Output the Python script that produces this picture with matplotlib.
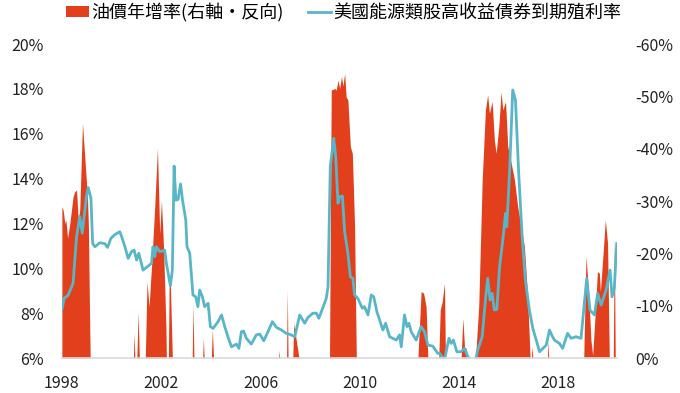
import matplotlib
matplotlib.use("Agg")
import matplotlib.pyplot as plt
from matplotlib.patches import Patch
from matplotlib.lines import Line2D

plt.rcParams['font.family'] = ['Noto Sans CJK TC', 'DejaVu Sans']

##data
# US energy high-yield bond yield (%), left axis
yield_years = [1998.00, 1998.09, 1998.25, 1998.45, 1998.59, 1998.72, 1998.82, 1998.99, 1999.06, 1999.17,
               1999.24, 1999.33, 1999.53, 1999.73, 1999.84, 1999.97, 2000.13, 2000.33, 2000.40, 2000.54,
               2000.67, 2000.80, 2000.91, 2001.01, 2001.10, 2001.27, 2001.61, 2001.67, 2001.74, 2001.81,
               2001.94, 2002.14, 2002.21, 2002.37, 2002.45, 2002.52, 2002.59, 2002.68, 2002.78, 2002.86,
               2002.99, 2003.04, 2003.15, 2003.28, 2003.39, 2003.48, 2003.55, 2003.66, 2003.75, 2003.89,
               2003.98, 2004.09, 2004.29, 2004.43, 2004.56, 2004.69, 2004.83, 2005.03, 2005.13, 2005.23,
               2005.32, 2005.43, 2005.63, 2005.83, 2005.97, 2006.13, 2006.30, 2006.48, 2006.64, 2006.84,
               2007.04, 2007.24, 2007.38, 2007.58, 2007.78, 2007.91, 2008.11, 2008.25, 2008.35, 2008.45,
               2008.65, 2008.72, 2008.81, 2008.95, 2009.03, 2009.12, 2009.19, 2009.30, 2009.39, 2009.52,
               2009.62, 2009.72, 2009.79, 2009.92, 2010.10, 2010.19, 2010.33, 2010.46, 2010.56, 2010.69,
               2010.93, 2011.04, 2011.20, 2011.47, 2011.60, 2011.67, 2011.80, 2011.90, 2011.98, 2012.07,
               2012.27, 2012.47, 2012.61, 2012.74, 2012.94, 2013.14, 2013.21, 2013.41, 2013.59, 2013.68,
               2013.77, 2013.91, 2014.08, 2014.22, 2014.35, 2014.49, 2014.66, 2014.75, 2014.93, 2015.06,
               2015.15, 2015.25, 2015.33, 2015.42, 2015.52, 2015.63, 2015.76, 2015.87, 2015.92, 2016.03,
               2016.16, 2016.27, 2016.40, 2016.54, 2016.67, 2016.83, 2016.97, 2017.24, 2017.51, 2017.64,
               2017.75, 2017.84, 2018.04, 2018.17, 2018.37, 2018.51, 2018.71, 2018.91, 2019.14, 2019.27,
               2019.45, 2019.58, 2019.72, 2019.92, 2020.08, 2020.16, 2020.25, 2020.35]
yield_vals = [8.14, 8.66, 8.80, 9.33, 11.40, 12.30, 11.57, 13.20, 13.60, 13.13,
              11.10, 10.96, 11.14, 11.10, 10.93, 11.33, 11.50, 11.63, 11.44, 10.96,
              10.44, 10.74, 10.81, 10.37, 10.67, 9.92, 10.22, 10.96, 10.52, 10.96,
              10.74, 10.81, 10.22, 9.22, 9.92, 14.56, 13.04, 13.07, 13.76, 13.04,
              12.15, 10.96, 10.67, 8.81, 8.73, 8.29, 9.03, 8.73, 8.29, 8.44,
              7.40, 7.32, 7.62, 7.92, 7.40, 6.95, 6.50, 6.62, 6.43, 7.17,
              7.20, 6.88, 6.62, 7.03, 7.07, 6.77, 7.17, 7.62, 7.37, 7.25,
              7.10, 7.03, 6.95, 7.92, 7.55, 7.81, 8.00, 8.00, 7.77, 8.06,
              8.66, 9.18, 14.53, 15.80, 14.97, 12.90, 13.19, 13.22, 11.63, 10.67,
              9.62, 9.55, 8.81, 8.66, 8.22, 8.29, 7.92, 8.81, 8.73, 8.06,
              7.25, 7.55, 6.95, 6.80, 7.03, 6.50, 7.92, 7.40, 7.55, 7.17,
              6.80, 7.40, 7.17, 6.58, 6.53, 6.21, 6.21, 5.90, 6.88, 6.65,
              6.80, 6.28, 6.28, 6.43, 6.06, 5.90, 5.90, 6.36, 6.95, 8.59,
              9.55, 8.59, 8.88, 8.14, 8.17, 10.07, 11.26, 12.45, 11.85, 14.23,
              17.95, 17.50, 14.23, 11.41, 9.48, 8.14, 7.32, 6.28, 6.58, 7.25,
              6.98, 6.80, 6.65, 6.43, 7.10, 6.88, 6.95, 6.88, 9.55, 8.14,
              7.92, 8.88, 8.36, 9.03, 9.92, 8.73, 9.10, 11.10]

# oil price YoY (%), right axis reversed; 0 where growth was not negative
oil_years = [1998.00, 1998.05, 1998.12, 1998.16, 1998.23, 1998.32, 1998.45, 1998.52, 1998.59, 1998.66,
             1998.72, 1998.83, 1998.93, 1999.03, 1999.07, 1999.11, 1999.14,
             2000.88, 2000.91, 2000.94, 2001.02, 2001.07, 2001.12,
             2001.36, 2001.43, 2001.51, 2001.61, 2001.74, 2001.85, 2001.94, 2002.01, 2002.10, 2002.19,
             2002.21, 2002.29, 2002.32, 2002.37, 2002.45,
             2003.25, 2003.28, 2003.32, 2003.67, 2003.70, 2003.73, 2004.02, 2004.06, 2004.11,
             2006.73, 2006.75, 2006.77, 2007.05, 2007.08, 2007.11, 2007.30, 2007.34, 2007.44, 2007.55,
             2008.78, 2008.85, 2008.99, 2009.05, 2009.12, 2009.19, 2009.26, 2009.32, 2009.39, 2009.45,
             2009.52, 2009.62, 2009.70, 2009.79, 2009.86,
             2012.34, 2012.47, 2012.57, 2012.67, 2012.74,
             2013.18, 2013.24, 2013.32, 2013.41, 2013.45,
             2014.08, 2014.15, 2014.22, 2014.28, 2014.35,
             2014.66, 2014.79, 2014.93, 2015.06, 2015.15, 2015.22, 2015.33, 2015.42, 2015.49, 2015.60,
             2015.69, 2015.76, 2015.87, 2015.96, 2016.10, 2016.23, 2016.36, 2016.50, 2016.63, 2016.76,
             2016.86, 2016.91, 2016.94, 2016.97, 2017.56, 2017.58, 2017.61,
             2019.02, 2019.11, 2019.22, 2019.31, 2019.38, 2019.49, 2019.57, 2019.65, 2019.69, 2019.78,
             2019.89, 2019.98, 2020.05, 2020.21, 2020.25, 2020.29]
oil_yoy = [-28.9, -28.3, -25.7, -26.4, -22.9, -25.7, -30.8, -31.8, -32.1, -26.4,
           -28.3, -44.9, -37.8, -30.8, -25.0, -10.0, 0,
           0, -4.7, 0, 0, -8.8, 0,
           0, -14.6, -9.8, -17.4, -28.9, -40.1, -23.8, -30.0, -20.6, -6.0,
           0, 0, -13.6, -14.3, 0,
           0, -10.3, 0, 0, -3.8, 0, 0, -5.5, 0,
           0, -1.5, 0, 0, -13.0, 0, 0, -6.6, -3.4, 0,
           0, -51.2, -51.5, -51.2, -53.1, -51.5, -53.8, -52.0, -54.4, -49.9,
           -49.3, -40.4, -39.1, -25.1, 0,
           0, -12.7, -12.4, -9.8, 0,
           0, -9.2, -10.8, -14.3, 0,
           0, -7.6, -2.0, -1.9, 0,
           0, -9.8, -34.0, -47.4, -50.3, -46.8, -49.0, -41.7, -39.1, -44.2,
           -50.9, -47.4, -49.0, -40.4, -37.2, -34.0, -28.9, -25.1, -21.3, -11.7,
           0, 0, -2.2, 0, 0, -3.4, 0,
           0, -19.4, -12.4, -3.4, -0.5, -9.2, -16.5, -16.2, -12.7, -18.7,
           -26.4, -21.9, 0, 0, -23.2, 0]

left_ticks = [6, 8, 10, 12, 14, 16, 18, 20]
right_ticks = [0, -10, -20, -30, -40, -50, -60]
year_ticks = [1998, 2002, 2006, 2010, 2014, 2018]

red = "#E2401C"
teal = "#58B6C8"

##fig
fig = plt.figure(figsize=(6.8, 3.93), dpi=100)
ax = fig.add_axes([0.091, 0.089, 0.816, 0.799])
ax2 = ax.twinx()

#oil fill on right axis (reversed)
ax2.fill_between(oil_years, oil_yoy, 0, color=red, linewidth=0)
ax2.set_ylim(0, -60)
ax2.set_yticks(right_ticks)
ax2.set_yticklabels([f"{v}%" for v in right_ticks])

#yield line on left axis, drawn over the fill
ax.set_zorder(ax2.get_zorder() + 1)
ax.patch.set_visible(False)
ax.plot(yield_years, yield_vals, color=teal, linewidth=2.0, solid_joinstyle="round")
ax.set_ylim(6, 20)
ax.set_yticks(left_ticks)
ax.set_yticklabels([f"{v}%" for v in left_ticks])
ax.set_xlim(1998, 2020.35)
ax.set_xticks(year_ticks)
ax.set_xticklabels([str(y) for y in year_ticks])

for a in (ax, ax2):
    for s in a.spines.values():
        s.set_visible(False)
    a.tick_params(length=0, labelsize=11.5, colors="#222222")
ax.spines["bottom"].set_visible(True)
ax.spines["bottom"].set_color("#d9d9d9")
ax.spines["bottom"].set_linewidth(1.2)
ax.tick_params(axis="y", pad=13)
ax.tick_params(axis="x", pad=12)
ax2.tick_params(axis="y", pad=13)

#legend
handles = [Patch(color=red, linewidth=0), Line2D([], [], color=teal, linewidth=2)]
labels = ["油價年增率(右軸‧反向)", "美國能源類股高收益債券到期殖利率"]
fig.legend(handles, labels, loc="upper left", bbox_to_anchor=(0.087, 1.01), ncol=2,
           frameon=False, fontsize=13, handlelength=1.25, handleheight=0.55,
           handletextpad=0.1, columnspacing=1.4, borderaxespad=0)

fig.savefig("out.png", dpi=100)
